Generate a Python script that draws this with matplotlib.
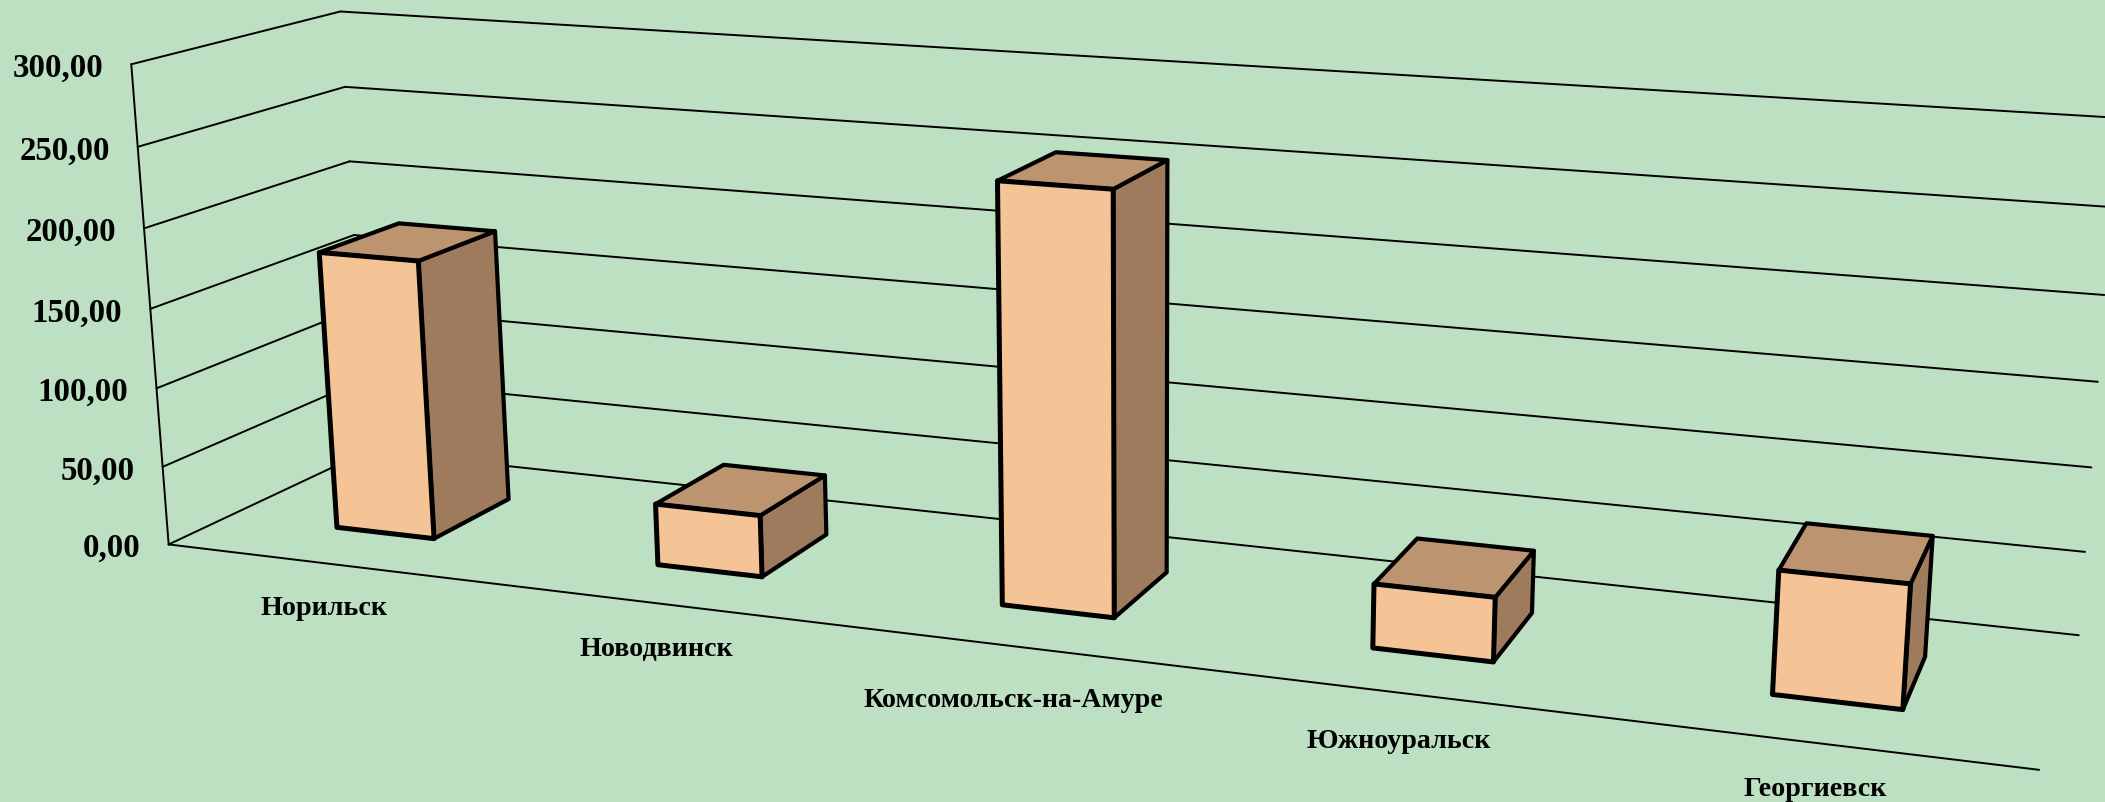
import numpy as np
import matplotlib
matplotlib.use("Agg")
import matplotlib.pyplot as plt
from matplotlib.patches import Polygon

# --- Data ---
categories = ["Норильск", "Новодвинск", "Комсомольск-на-Амуре", "Южноуральск", "Георгиевск"]
values = [177.2, 38.5, 253.3, 38.0, 71.0]
tick_values = [0, 50, 100, 150, 200, 250, 300]
tick_labels = ["0,00", "50,00", "100,00", "150,00", "200,00", "250,00", "300,00"]

# --- Style ---
BG = "#BDE0C2"
FRONT = "#F4C396"
SIDE = "#9E7B5D"
TOP = "#BD9470"
BAR_SPAN = (0.345, 0.655)  # bar extent inside its category slot
BAR_DEPTH = (0.295, 0.70)  # bar extent along the floor depth
LABEL_DY = [43.7, 45, 53, 47.7, 45]  # category labels are not evenly offset in the original

# Camera: wall corners as they sit in the picture, (slot, depth, value) -> pixel
anchor_world = [(0, 0, 0), (0, 0, 50), (0, 0, 100), (0, 0, 150), (0, 0, 200), (0, 0, 250), (0, 0, 300),
                (0, 1, 300), (0, 1, 250), (0, 1, 200), (0, 1, 0),
                (5, 0, 0), (5, 1, 0), (5, 1, 50), (5, 1, 100), (5, 1, 150), (5, 1, 200)]
anchor_pix = [(167.6, 546), (161.9, 467.7), (156.9, 389.6), (150.4, 309.2), (144.7, 229.6), (137.8, 147.7), (132, 65),
              (340.6, 12.6), (343.7, 88), (349, 162.6), (369, 451.6),
              (2039, 771), (2078.7, 636), (2085, 552.7), (2091.7, 468.7), (2097, 382.7), (2105, 296)]


def fit_camera(world, pix):
    """Least squares 3x4 projection matrix from the wall anchors."""
    rows = []
    for (x, d, z), (u, v) in zip(world, pix):
        X = [x / 5, d, z / 300, 1]
        u, v = u / 1000, v / 1000
        rows.append(X + [0, 0, 0, 0] + [-u * c for c in X])
        rows.append([0, 0, 0, 0] + X + [-v * c for c in X])
    return np.linalg.svd(np.array(rows))[2][-1].reshape(3, 4)


P = fit_camera(anchor_world, anchor_pix)


def project(x, d, z):
    h = P @ np.array([x / 5, d, z / 300, 1.0])
    return h[0] / h[2] * 1000, h[1] / h[2] * 1000


def draw_line(ax, a, b, lw=1.4):
    pa, pb = project(*a), project(*b)
    ax.plot([pa[0], pb[0]], [pa[1], pb[1]], color="black", lw=lw, solid_capstyle="round", zorder=2)


def draw_face(ax, corners, color, lw=3.6):
    pts = [project(*c) for c in corners]
    ax.add_patch(Polygon(pts, closed=True, facecolor=color, edgecolor="black", lw=lw,
                         joinstyle="round", zorder=3))


fig = plt.figure(figsize=(21.05, 8.03), dpi=100, facecolor=BG)
ax = fig.add_axes([0, 0, 1, 1])
ax.set_xlim(0, 2105)
ax.set_ylim(803, 0)
ax.axis("off")

# Walls and gridlines
for z, label in zip(tick_values, tick_labels):
    draw_line(ax, (0, 0, z), (0, 1, z))
    draw_line(ax, (0, 1, z), (5, 1, z))
    px, py = project(0, 0, z)
    ax.text(px - 28, py + 3, label, ha="right", va="center", fontsize=23.7, fontweight="bold",
            family="Liberation Serif", color="black")
draw_line(ax, (0, 0, 0), (0, 0, 300))
draw_line(ax, (0, 0, 0), (5, 0, 0))

# Bars and category labels
for i, (name, val) in enumerate(zip(categories, values)):
    x0, x1 = i + BAR_SPAN[0], i + BAR_SPAN[1]
    d0, d1 = BAR_DEPTH
    draw_face(ax, [(x1, d0, 0), (x1, d1, 0), (x1, d1, val), (x1, d0, val)], SIDE, lw=3.0)
    draw_face(ax, [(x0, d0, val), (x1, d0, val), (x1, d1, val), (x0, d1, val)], TOP, lw=3.0)
    draw_face(ax, [(x0, d0, 0), (x1, d0, 0), (x1, d0, val), (x0, d0, val)], FRONT)
    px, py = project(i + 0.5, 0, 0)
    ax.text(px - 2, py + LABEL_DY[i], name, ha="center", va="center", fontsize=20.2, fontweight="bold",
            family="Liberation Serif", color="black")

fig.savefig("out.png", dpi=100, facecolor=BG)
